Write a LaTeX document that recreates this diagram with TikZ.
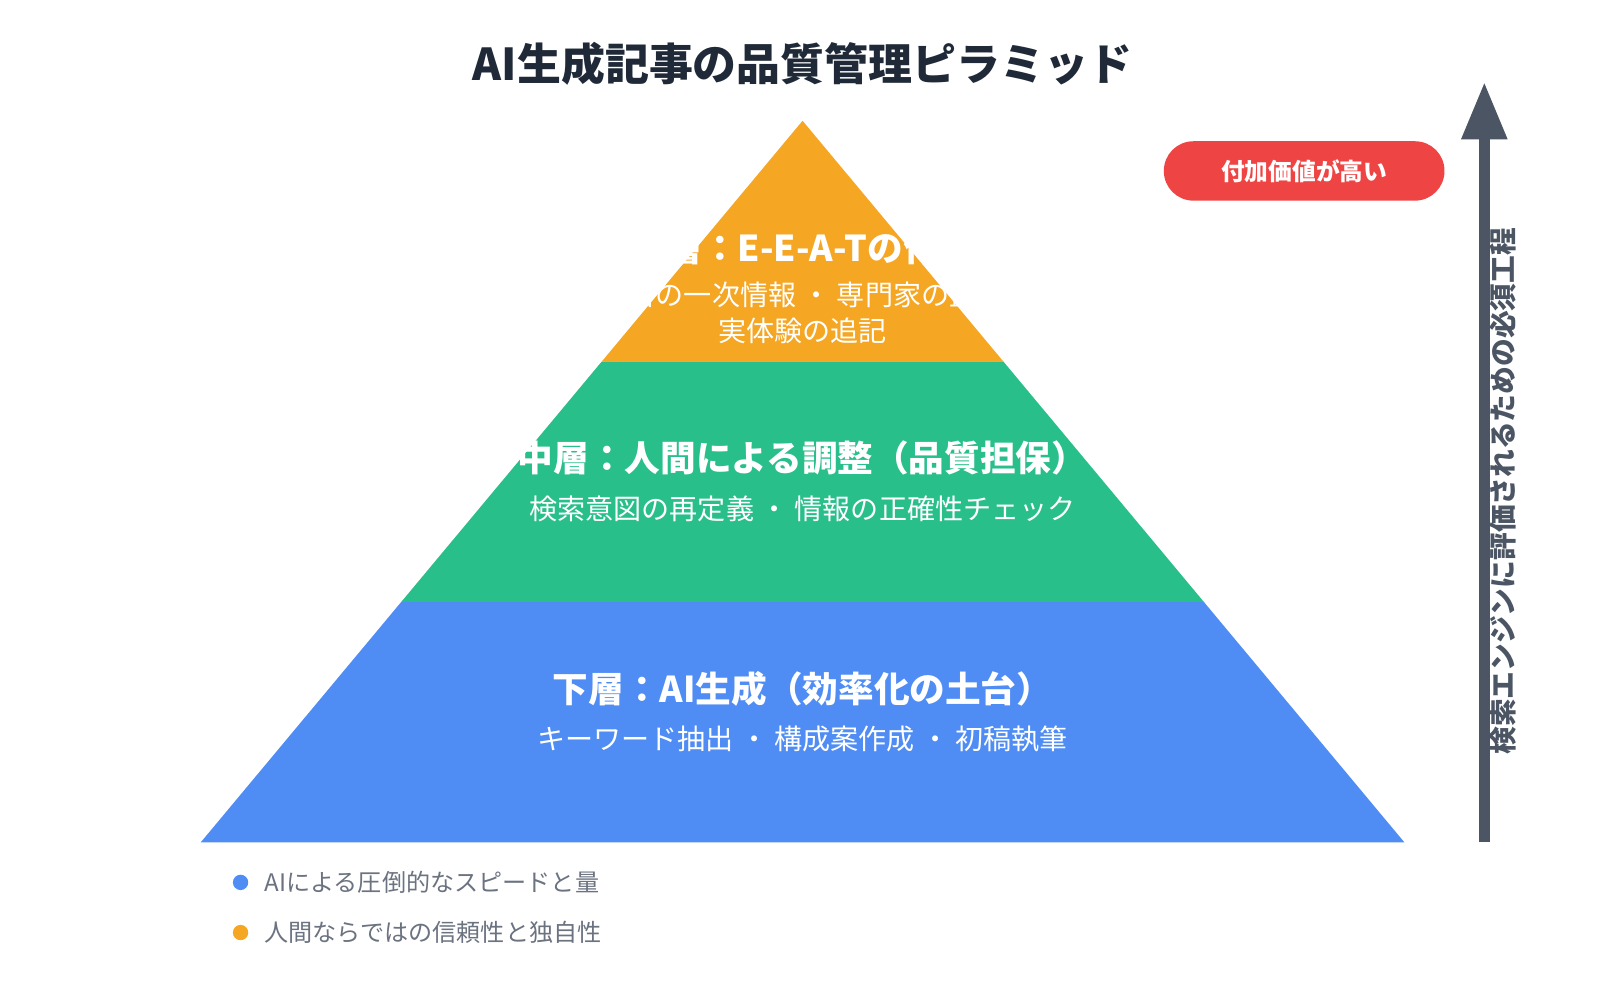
\documentclass[tikz,border=0pt]{standalone}
\usepackage{fontspec}
\setmainfont{Noto Sans CJK JP}
\usetikzlibrary{arrows.meta}
\definecolor{topc}{HTML}{F5A623}
\definecolor{midc}{HTML}{28BF8A}
\definecolor{lowc}{HTML}{4F8DF5}
\definecolor{redc}{HTML}{EF4444}
\definecolor{axisc}{HTML}{4B5563}
\definecolor{titlec}{HTML}{1F2937}
\definecolor{legc}{HTML}{6B7280}
\tikzset{
  layertitle/.style={text=white, font=\fontsize{9.9}{12}\selectfont\bfseries},
  layersub/.style={text=white, font=\fontsize{7.8}{10}\selectfont},
  legendtext/.style={text=legc, anchor=west, font=\fontsize{6.7}{8}\selectfont}
}
\begin{document}
\begin{tikzpicture}[x=0.01cm, y=-0.01cm]
\useasboundingbox (0,0) rectangle (1563,977);

%title
\node[text=titlec, font=\fontsize{12.2}{14}\selectfont\bfseries] (title) at (784,62) {AI生成記事の品質管理ピラミッド};

%pyramid layers
\fill[lowc] (392,588) -- (1176,588) -- (1372,823) -- (196,823) -- cycle;
\fill[midc] (588,353) -- (980,353) -- (1176,588) -- (392,588) -- cycle;
\fill[topc] (784,118) -- (980,353) -- (588,353) -- cycle;

%layer labels
\node[layertitle] (toptitle) at (784,242) {上層：E-E-A-Tの付与};
\node[layersub] (topsub1) at (784,288) {独自の一次情報 ・ 専門家の監修};
\node[layersub] (topsub2) at (784,323) {実体験の追記};
\node[layertitle] (midtitle) at (784,447) {中層：人間による調整（品質担保）};
\node[layersub] (midsub) at (784,497) {検索意図の再定義 ・ 情報の正確性チェック};
\node[layertitle] (lowtitle) at (784,673) {下層：AI生成（効率化の土台）};
\node[layersub] (lowsub) at (784,722) {キーワード抽出 ・ 構成案作成 ・ 初稿執筆};

%value axis
\coordinate (axisfoot) at (1450,823);
\coordinate (axishead) at (1450,80);
\draw[axisc, line width=3.2pt, -{Triangle[length=16pt, width=12pt]}] (axisfoot) -- (axishead);
\node[rotate=90, text=axisc, font=\fontsize{7.7}{9}\selectfont\bfseries] (axislabel) at (1468,480) {検索エンジンに評価されるための必須工程};
\node[fill=redc, rounded corners=8.2pt, text=white, font=\fontsize{6.6}{8}\selectfont\bfseries, minimum width=2.74cm, minimum height=0.58cm] (valuetag) at (1274,167) {付加価値が高い};

%legend
\fill[lowc] (235,862) circle (7.5);
\node[legendtext] (legai) at (246,862) {AIによる圧倒的なスピードと量};
\fill[topc] (235,911) circle (7.5);
\node[legendtext] (leghuman) at (246,911) {人間ならではの信頼性と独自性};
\end{tikzpicture}
\end{document}
